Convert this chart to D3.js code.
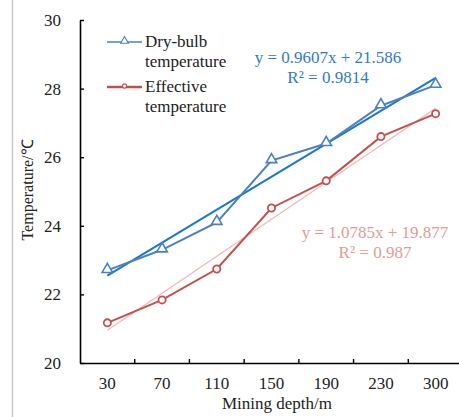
<!DOCTYPE html>
<html>
<head>
<meta charset="utf-8">
<script src="https://cdn.jsdelivr.net/npm/d3@7"></script>
<style>
body { margin: 0; background: #fff; }
text { font-family: "Liberation Serif", "Times New Roman", serif; }
</style>
</head>
<body>
<svg id="chart"></svg>
<script>
// mining depth categories and measured temperatures
var depths = ["30", "70", "110", "150", "190", "230", "300"];
var dryBulb = [22.7, 23.3, 24.1, 25.9, 26.4, 27.5, 28.1];
var effective = [21.17, 21.84, 22.74, 24.52, 25.31, 26.6, 27.27];
var yTicks = [20, 22, 24, 26, 28, 30];
// Excel linear trendlines (x = 1..7)
var dryFit = {slope: 0.9607, icpt: 21.586, label: ["y = 0.9607x + 21.586", "R² = 0.9814"]};
var effFit = {slope: 1.0785, icpt: 19.877, label: ["y = 1.0785x + 19.877", "R² = 0.987"]};

var width = 459, height = 417;
var margin = {top: 20, left: 80, bottom: 54};
var fs = "17px";

var svg = d3.select("#chart")
    .attr("width", width)
    .attr("height", height);

// thin grey frame line at the left of the picture
svg.append("line")
    .attr("x1", 12.5).attr("x2", 12.5)
    .attr("y1", 0).attr("y2", height)
    .attr("stroke", "#c8c8c8").attr("stroke-width", 1.5);

var xScale = d3.scaleBand()
    .domain(depths)
    .range([margin.left, 463]);

var yScale = d3.scaleLinear()
    .domain([20, 30])
    .range([height - margin.bottom, margin.top]);

function cx(d) { return xScale(d) + xScale.bandwidth() / 2; }

// y axis
var yAxis = svg.append("g")
    .attr("transform", "translate(" + margin.left + ",0)")
    .call(d3.axisLeft(yScale).tickValues(yTicks).tickSizeInner(-4).tickSizeOuter(0).tickPadding(19));
yAxis.select(".domain").attr("stroke", "#000").attr("stroke-width", 1.6);
yAxis.selectAll(".tick line").attr("stroke", "#000").attr("stroke-width", 1.4);
yAxis.selectAll("text").style("font-size", fs).attr("fill", "#222")
    .style("font-family", "'Liberation Serif', serif");

// x axis (labels centred, ticks between categories)
var xAxis = svg.append("g")
    .attr("transform", "translate(0," + yScale(20) + ")")
    .call(d3.axisBottom(xScale).tickSize(0).tickPadding(14));
xAxis.select(".domain").attr("stroke", "#000").attr("stroke-width", 1.6);
xAxis.selectAll("text").style("font-size", fs).attr("fill", "#222")
    .style("font-family", "'Liberation Serif', serif");
xAxis.selectAll(".sep")
    .data(depths.slice(1))
    .enter().append("line")
    .attr("x1", function (d) { return xScale(d); })
    .attr("x2", function (d) { return xScale(d); })
    .attr("y1", 0).attr("y2", -4)
    .attr("stroke", "#000").attr("stroke-width", 1.4);

// axis titles
svg.append("text")
    .attr("x", 277).attr("y", 409)
    .attr("text-anchor", "middle")
    .style("font-size", fs).attr("fill", "#222")
    .text("Mining depth/m");
svg.append("text")
    .attr("transform", "translate(33,190)rotate(-90)")
    .attr("text-anchor", "middle")
    .style("font-size", "16px").attr("fill", "#222")
    .text("Temperature/℃");

// trendlines
function trend(fit, color, w) {
    var pts = [0, depths.length - 1].map(function (i) {
        return [cx(depths[i]), yScale(fit.slope * (i + 1) + fit.icpt)];
    });
    svg.append("path")
        .attr("d", d3.line()(pts))
        .attr("fill", "none")
        .attr("stroke", color)
        .attr("stroke-width", w);
}
trend(effFit, "#f2b6b4", 1.2);
trend(dryFit, "#1a78c8", 2);

var line = d3.line()
    .x(function (d, i) { return cx(depths[i]); })
    .y(function (d) { return yScale(d); });

svg.append("path").datum(dryBulb)
    .attr("d", line).attr("fill", "none")
    .attr("stroke", "#4a80c4").attr("stroke-width", 2);
svg.append("path").datum(effective)
    .attr("d", line).attr("fill", "none")
    .attr("stroke", "#c4504d").attr("stroke-width", 2);

var tri = d3.symbol().type(d3.symbolTriangle).size(48);
svg.selectAll(".tri")
    .data(dryBulb)
    .enter().append("path")
    .attr("class", "tri")
    .attr("d", tri)
    .attr("transform", function (d, i) { return "translate(" + cx(depths[i]) + "," + (yScale(d) - 1) + ")"; })
    .attr("fill", "#fff").attr("stroke", "#4a80c4").attr("stroke-width", 1.6);

svg.selectAll(".dot")
    .data(effective)
    .enter().append("circle")
    .attr("class", "dot")
    .attr("cx", function (d, i) { return cx(depths[i]); })
    .attr("cy", function (d) { return yScale(d); })
    .attr("r", 3.6)
    .attr("fill", "#fff").attr("stroke", "#c4504d").attr("stroke-width", 1.8);

// equations
function eqn(fit, x, y, color) {
    svg.append("text")
        .attr("x", x).attr("y", y)
        .attr("text-anchor", "middle")
        .style("font-size", fs).attr("fill", color)
        .selectAll("tspan")
        .data(fit.label)
        .enter().append("tspan")
        .attr("x", x)
        .attr("dy", function (d, i) { return i ? 20 : 0; })
        .text(function (d) { return d; });
}
eqn(dryFit, 328, 63, "#2f7bc9");
eqn(effFit, 375, 238, "#e49a98");

// legend
var legend = [
    {name: ["Dry-bulb", "temperature"], color: "#4a80c4", y: 42, shape: "tri"},
    {name: ["Effective", "temperature"], color: "#c4504d", y: 87, shape: "dot"}
];
var lg = svg.selectAll(".legend")
    .data(legend)
    .enter().append("g")
    .attr("class", "legend")
    .attr("transform", function (d) { return "translate(107," + d.y + ")"; });
lg.append("line")
    .attr("x1", 0).attr("x2", 35)
    .attr("stroke", function (d) { return d.color; })
    .attr("stroke-width", function (d) { return d.shape === "tri" ? 1.4 : 2.4; });
lg.append("path")
    .attr("d", function (d) {
        return d.shape === "tri" ? d3.symbol().type(d3.symbolTriangle).size(26)() : d3.symbol().type(d3.symbolCircle).size(14)();
    })
    .attr("transform", "translate(17.5,-1)")
    .attr("fill", "#fff")
    .attr("stroke", function (d) { return d.color; })
    .attr("stroke-width", 1.1);
lg.append("text")
    .attr("x", 38).attr("y", 5)
    .style("font-size", fs).attr("fill", "#222")
    .selectAll("tspan")
    .data(function (d) { return d.name; })
    .enter().append("tspan")
    .attr("x", 38)
    .attr("dy", function (d, i) { return i ? 20 : 0; })
    .text(function (d) { return d; });
</script>
</body>
</html>
